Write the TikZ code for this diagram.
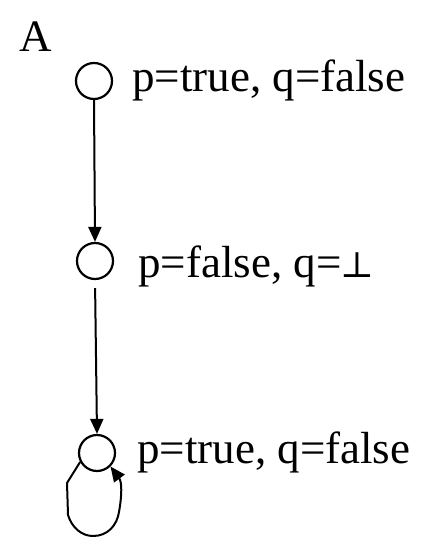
\documentclass[tikz,border=0pt]{standalone}
\usepackage{fontspec}
\setmainfont{Liberation Serif}
\newfontfamily\symfont{DejaVu Serif}
\usetikzlibrary{arrows.meta}
\begin{document}
\begin{tikzpicture}[x=1pt,y=-1pt,
  state/.style={draw,circle,minimum size=36pt,inner sep=0pt,line width=2.2pt},
  lbl/.style={anchor=base west,inner sep=0pt,font=\fontsize{45}{50}\selectfont},
  arr/.style={line width=2pt,-{Triangle[length=15pt,width=13pt]}}]
\useasboundingbox (0,0) rectangle (435,537);
\node[lbl] (A) at (19,52) {A};
\node[state] (s1) at (94,81) {};
\node[state] (s2) at (95,261) {};
\node[state] (s3) at (97,453) {};
\node[lbl] (t1) at (132,92) {p=true, q=false};
\node[lbl] (t2) at (138,277) {p=false, q=\kern-1pt{\symfont\fontsize{36}{40}\selectfont ⊥}};
\node[lbl] (t3) at (137,463) {p=true, q=false};
\draw[arr] (s1.south) -- (s2.north);
\draw[arr,shorten <=8pt] (s2.south) -- (s3.north);
\draw[arr] (s3.208) -- (67,483) -- (68,515) .. controls (72,528) and (82,536) .. (93,536)
  .. controls (108,536) and (117,525) .. (119,512) .. controls (122,495) and (122,482) .. (s3.-45);
\end{tikzpicture}
\end{document}
